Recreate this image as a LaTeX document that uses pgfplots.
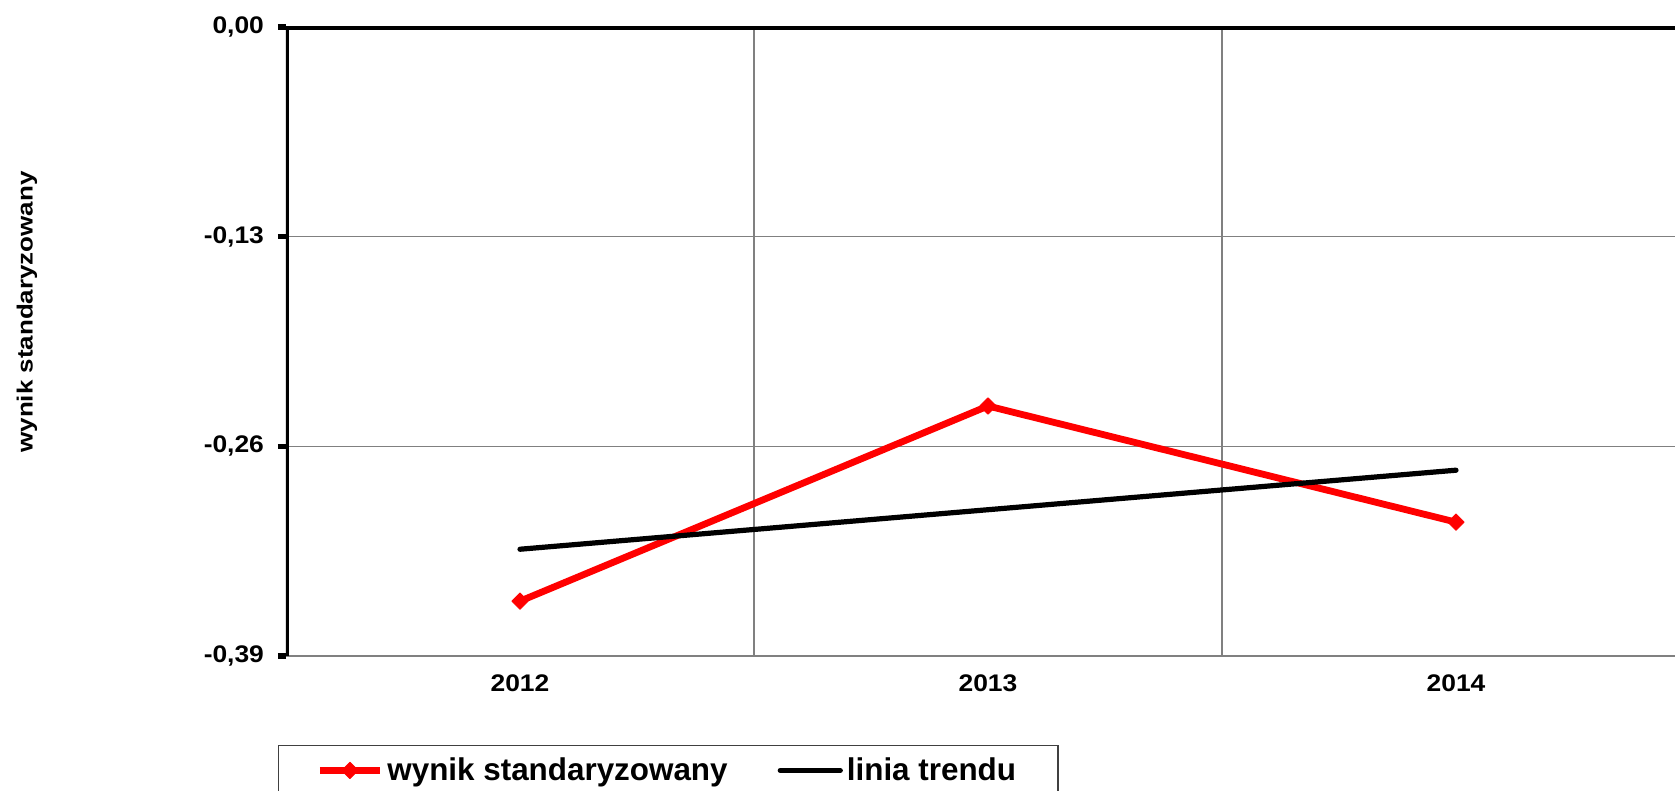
\documentclass[border=0pt]{standalone}
\usepackage{fontspec}
\setmainfont{Liberation Sans}
\newfontfamily\tickfont[FakeStretch=1.1]{Liberation Sans}
\newfontfamily\labelfont[FakeStretch=1.18]{Liberation Sans}
\usepackage{pgfplots}
\pgfplotsset{compat=1.18}

\definecolor{gridgray}{HTML}{808080}

\begin{document}
\begin{tikzpicture}
% page = 1675 x 791 px, 1 px = 0.5 pt; the plot area runs past the right edge
\path[use as bounding box] (-143pt,-67.5pt) rectangle (694.5pt,328pt);
\begin{axis}[
  at={(0,0)}, anchor=south west,
  scale only axis,
  width=702pt, height=314.5pt,
  xmin=-0.5, xmax=2.5,
  ymin=-0.39, ymax=0,
  axis line style={draw=none},
  xtick={0,1,2},
  xticklabels={2012,2013,2014},
  minor xtick={0.5,1.5},
  xminorgrids=true,
  minor x grid style={gridgray, line width=0.6pt},
  xtick style={draw=none},
  minor tick length=0pt,
  ytick={-0.39,-0.26,-0.13,0},
  yticklabels={{-0,39},{-0,26},{-0,13},{0,00}},
  ytick pos=left,
  tick align=outside,
  major tick length=4pt,
  ytick style={black, line width=2.6pt},
  ymajorgrids=true,
  major grid style={gridgray, line width=0.6pt},
  xmajorgrids=false,
  tick label style={font=\tickfont\fontsize{12}{14}\selectfont\bfseries},
  xticklabel style={yshift=-2pt},
  yticklabel style={xshift=-3.5pt},
  ylabel={wynik standaryzowany},
  ylabel style={font=\labelfont\fontsize{11}{13}\selectfont\bfseries,
    at={(axis description cs:-0.1845,0.547)}, anchor=center},
  legend columns=2,
  legend style={at={(-0.0057,-0.1415)}, anchor=north west,
    draw=black!75, line width=0.6pt, fill=white,
    font=\fontsize{15.7}{19}\selectfont\bfseries,
    inner xsep=19pt, inner ysep=4pt,
    /tikz/every even column/.append style={column sep=23pt}},
  legend cell align=left,
  legend image code/.code={\draw[mark repeat=2,mark phase=2,#1]
    plot coordinates {(0pt,0pt) (15pt,0pt) (30pt,0pt)};},
]
% 0 = 2012, 1 = 2013, 2 = 2014
\addplot[red, line width=3.4pt, line join=round, mark=square*,
  mark size=2.9pt, mark options={solid, rotate=45, line width=0.4pt}]
  coordinates {(0,-0.356) (1,-0.235) (2,-0.307)};
\addlegendentry{wynik standaryzowany}
\addplot[black, line width=2.6pt, line cap=round]
  coordinates {(0,-0.3238) (2,-0.2748)};
\addlegendentry{linia trendu}

% axis frame as in the original: thin grey bottom, thick left and top
\draw[gridgray, line width=1.2pt] (rel axis cs:0,0) -- (rel axis cs:1,0);
\draw[black, line width=3pt] (rel axis cs:0,0) -- (rel axis cs:0,1) -- (rel axis cs:1,1);
\draw[black, line width=2.6pt] (axis cs:-0.5,0) ++(0,4pt) -- ++(0,-8pt);
\draw[black, line width=2.6pt] (axis cs:0.5,0) ++(0,4pt) -- ++(0,-8pt);
\draw[black, line width=2.6pt] (axis cs:1.5,0) ++(0,4pt) -- ++(0,-8pt);
\end{axis}
\end{tikzpicture}
\end{document}
